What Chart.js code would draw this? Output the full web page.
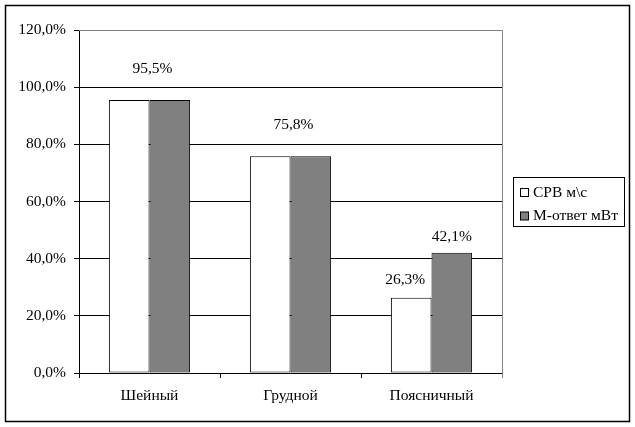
<!DOCTYPE html>
<html>
<head>
<meta charset="utf-8">
<script src="https://cdn.jsdelivr.net/npm/chart.js@4/dist/chart.umd.min.js"></script>
<style>
  html, body { margin: 0; padding: 0; background: #fff; }
  #wrap { width: 635px; height: 427px; }
</style>
</head>
<body>
<div id="wrap"><canvas id="chart" width="635" height="427"></canvas></div>
<script>
'use strict';

// chart data
const categories = ['Шейный', 'Грудной', 'Поясничный'];
const seriesNames = ['СРВ м\\с', 'М-ответ мВт'];
const srvValues = [95.5, 75.8, 26.3];
const mValues = [95.5, 75.8, 42.1];
const yTicks = [0, 20, 40, 60, 80, 100, 120];

const FONT = '"Liberation Serif", "Times New Roman", serif';
const FSIZE = 15.5;

function pct(v) {
    return v.toFixed(1).replace('.', ',') + '%';
}

// outer frame, plot border, value labels and legend
const decorations = {
    id: 'decorations',
    beforeDraw(chart) {
        const ctx = chart.ctx;
        ctx.save();
        ctx.fillStyle = '#fff';
        ctx.fillRect(0, 0, chart.width, chart.height);
        ctx.restore();
    },
    afterDraw(chart) {
        const ctx = chart.ctx;
        const area = chart.chartArea;
        ctx.save();

        // plot area top/right border in gray
        ctx.strokeStyle = '#808080';
        ctx.lineWidth = 1;
        ctx.beginPath();
        ctx.moveTo(area.left, area.top + 0.5);
        ctx.lineTo(area.right + 0.5, area.top + 0.5);
        ctx.lineTo(area.right + 0.5, area.bottom + 5);
        ctx.stroke();

        // outer frame
        ctx.strokeStyle = '#000';
        ctx.lineWidth = 1.5;
        ctx.strokeRect(5.5, 5.5, 624, 416);

        // value labels
        ctx.fillStyle = '#000';
        ctx.font = FSIZE + 'px ' + FONT;
        ctx.textAlign = 'center';
        ctx.textBaseline = 'middle';
        const m0 = chart.getDatasetMeta(0);
        const m1 = chart.getDatasetMeta(1);
        categories.forEach((c, i) => {
            const a = m0.data[i], b = m1.data[i];
            if (srvValues[i] === mValues[i]) {
                ctx.fillText(pct(srvValues[i]), (a.x + b.x) / 2 + 3, a.y - 31);
            } else {
                ctx.fillText(pct(srvValues[i]), a.x - 6, a.y - 18);
                ctx.fillText(pct(mValues[i]), b.x, b.y - 16);
            }
        });

        // legend
        ctx.lineWidth = 1;
        ctx.strokeStyle = '#000';
        ctx.strokeRect(513.5, 177.5, 111, 49);
        const fills = ['#ffffff', '#808080'];
        ctx.textAlign = 'left';
        seriesNames.forEach((name, i) => {
            const y = 192.5 + i * 23.5;
            ctx.fillStyle = fills[i];
            ctx.fillRect(520.5, y - 4, 8, 8);
            ctx.strokeRect(520.5, y - 4, 8, 8);
            ctx.fillStyle = '#000';
            ctx.fillText(name, 533, y);
        });

        ctx.restore();
    }
};

const ctx = document.getElementById('chart');
const chart = new Chart(ctx, {
    type: 'bar',
    data: {
        labels: categories,
        datasets: [{
            label: seriesNames[0],
            data: srvValues,
            backgroundColor: '#ffffff',
            borderColor: '#000',
            borderWidth: 1,
            borderSkipped: false
        }, {
            label: seriesNames[1],
            data: mValues,
            backgroundColor: '#808080',
            borderColor: '#000',
            borderWidth: 1,
            borderSkipped: false
        }]
    },
    options: {
        responsive: false,
        animation: false,
        devicePixelRatio: 1,
        layout: { padding: { left: 0, top: 30, right: 133, bottom: 0 } },
        datasets: {
            bar: { categoryPercentage: 0.576, barPercentage: 1 }
        },
        plugins: {
            legend: { display: false },
            tooltip: { enabled: false }
        },
        scales: {
            x: {
                afterFit(scale) { scale.height = 54; },
                grid: {
                    offset: true,
                    drawOnChartArea: false,
                    color: '#000',
                    tickLength: 5
                },
                border: { color: '#000', width: 1 },
                ticks: {
                    color: '#000',
                    padding: 9,
                    font: { family: FONT, size: FSIZE }
                }
            },
            y: {
                min: 0,
                max: 120,
                afterFit(scale) { scale.width = 79; },
                afterBuildTicks(scale) {
                    scale.ticks = yTicks.map(v => ({ value: v }));
                },
                grid: {
                    color: c => (c.tick && c.tick.value === 120) ? '#808080' : '#000',
                    tickColor: '#000',
                    tickLength: 5
                },
                border: { color: '#000', width: 1 },
                ticks: {
                    color: '#000',
                    padding: 8,
                    font: { family: FONT, size: FSIZE }
                    ,
                    callback: v => pct(v)
                }
            }
        }
    },
    plugins: [decorations]
});
</script>
</body>
</html>
